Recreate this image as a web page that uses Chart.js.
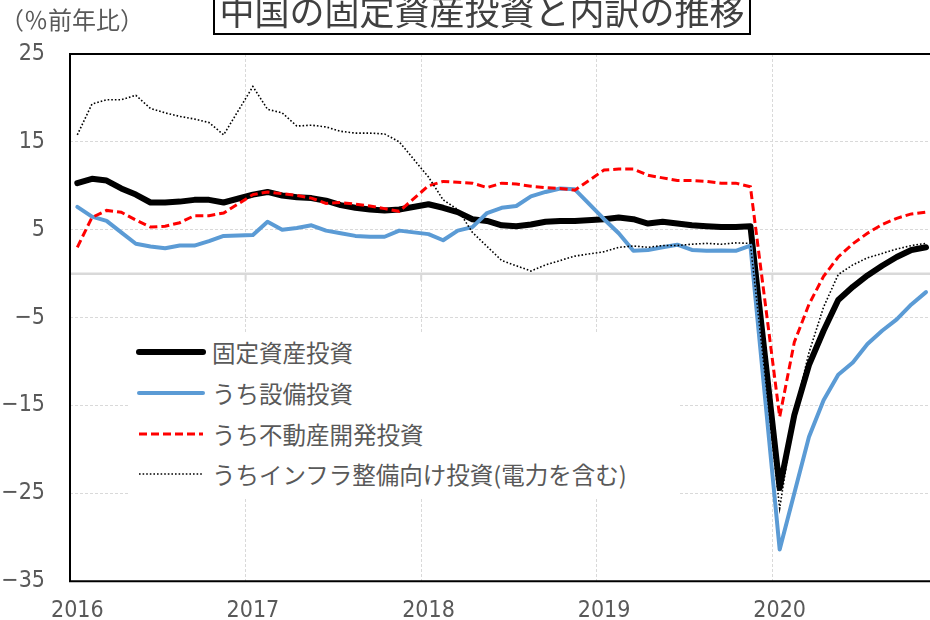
<!DOCTYPE html>
<html lang="ja">
<head>
<meta charset="utf-8">
<title>中国の固定資産投資と内訳の推移</title>
<script src="https://cdn.jsdelivr.net/npm/chart.js@4/dist/chart.umd.min.js"></script>
<style>
  html, body { margin: 0; padding: 0; background: #fff; }
  #wrap { position: relative; width: 930px; height: 620px; overflow: hidden; }
  #chart { position: absolute; left: 0; top: 0; }
  .jp { font-family: 'Noto Sans CJK JP', sans-serif; color: #595959; }
  #title {
    position: absolute; left: 213px; top: -14px; width: 538px; height: 49px;
    box-sizing: border-box; border: 2px solid #000; background: #fff;
    padding-top: 4px; font-size: 35px; line-height: 35px; text-align: center;
    color: #404040; white-space: nowrap;
  }
  #unit { position: absolute; left: 0; top: 7px; font-size: 24px; line-height: 24px; }
  #legend {
    position: absolute; left: 128px; top: 332px; width: 551px; height: 165px;
    background: #fff;
  }
  .row { display: flex; align-items: center; height: 40.7px; }
  .row svg { margin-left: 7px; }
  .row span { margin-left: 5px; font-size: 23.5px; line-height: 24px; white-space: nowrap; }
</style>
</head>
<body>
<div id="wrap">
  <!-- canvas a little wider than the window: the plot runs off the right edge like the original -->
  <canvas id="chart" width="942" height="620"></canvas>
  <div id="title" class="jp">中国の固定資産投資と内訳の推移</div>
  <div id="unit" class="jp">（％前年比）</div>
  <div id="legend" class="jp"></div>
</div>
<script>
const years = ['2016', '2017', '2018', '2019', '2020'];

// Feb 2016 ... Dec 2020, one slot per month; January slots have no data (Jan-Feb cumulative)
const months = [];
years.forEach((y, i) => {
  if (i > 0) months.push(y + '/1');
  for (let m = 2; m <= 12; m++) months.push(y + '/' + m);
});

const seriesNames = [
  '固定資産投資',
  'うち設備投資',
  'うち不動産開発投資',
  'うちインフラ整備向け投資(電力を含む)'
];

const fixedAsset = [
  10.3, 10.8, 10.6, 9.7, 9.0, 8.1, 8.1, 8.2, 8.4, 8.4, 8.1,
  null, 9.0, 9.3, 8.9, 8.7, 8.6, 8.3, 7.8, 7.5, 7.3, 7.2, 7.3,
  null, 7.9, 7.5, 7.0, 6.2, 6.0, 5.5, 5.4, 5.6, 5.9, 6.0, 6.0,
  null, 6.2, 6.4, 6.2, 5.7, 5.9, 5.7, 5.5, 5.4, 5.3, 5.3, 5.4,
  null, -24.4, -16.1, -10.4, -6.5, -3.0, -1.5, -0.2, 0.9, 1.9, 2.7, 3.0
];

const equipment = [
  7.6, 6.5, 6.0, 4.7, 3.4, 3.1, 2.9, 3.2, 3.2, 3.7, 4.3,
  null, 4.4, 5.9, 5.0, 5.2, 5.5, 4.9, 4.6, 4.3, 4.2, 4.2, 4.9,
  null, 4.5, 3.8, 4.9, 5.3, 6.9, 7.5, 7.7, 8.8, 9.3, 9.7, 9.6,
  null, 6.2, 4.6, 2.6, 2.7, 3.0, 3.3, 2.7, 2.6, 2.65, 2.6, 3.2,
  null, -31.4, -25.0, -18.6, -14.4, -11.5, -10.1, -8.0, -6.5, -5.2, -3.5, -2.1
];

const realEstate = [
  3.0, 6.4, 7.2, 7.0, 6.1, 5.3, 5.4, 5.8, 6.6, 6.6, 6.9,
  null, 9.0, 9.3, 9.1, 8.9, 8.6, 8.0, 8.1, 7.9, 7.7, 7.4, 7.1,
  null, 10.0, 10.5, 10.4, 10.3, 9.8, 10.3, 10.2, 9.95, 9.8, 9.7, 9.5,
  null, 11.8, 11.9, 11.9, 11.2, 10.9, 10.6, 10.6, 10.5, 10.3, 10.3, 9.9,
  null, -16.3, -7.8, -3.5, -0.3, 1.9, 3.4, 4.6, 5.6, 6.3, 6.8, 7.0
];

const infra = [
  15.8, 19.3, 19.8, 19.8, 20.3, 18.8, 18.3, 17.9, 17.6, 17.2, 15.8,
  null, 21.3, 18.7, 18.3, 16.8, 16.9, 16.7, 16.2, 16.0, 16.0, 15.9, 15.0,
  null, 11.0, 8.4, 7.3, 4.7, 3.1, 1.5, 0.9, 0.3, 1.0, 1.5, 2.0,
  null, 2.5, 3.0, 3.15, 3.0, 3.2, 3.2, 3.35, 3.45, 3.35, 3.5, 3.45,
  null, -26.7, -16.0, -9.0, -3.8, -0.1, 1.0, 1.8, 2.3, 2.8, 3.2, 3.45
];

const yMin = -35;
const yMax = 25;
const yStep = 10;

const tickColor = '#595959';
const gridColor = '#d9d9d9';
const tickFont = { family: "'Liberation Sans Narrow', 'DejaVu Sans Condensed', 'Liberation Sans', sans-serif", size: 23 };

// zero line, small ticks on it, and the black frame
const framePlugin = {
  id: 'frame',
  beforeDatasetsDraw(chart) {
    const { ctx, chartArea: a, scales: { x, y } } = chart;
    const y0 = y.getPixelForValue(0);
    ctx.save();
    ctx.strokeStyle = gridColor;
    ctx.lineWidth = 2.5;
    ctx.beginPath();
    ctx.moveTo(a.left, y0);
    ctx.lineTo(a.right, y0);
    ctx.stroke();
    ctx.lineWidth = 2;
    for (let i = 0; i < months.length; i += 12) {
      const px = x.getPixelForValue(i - 0.5);
      ctx.beginPath();
      ctx.moveTo(px, y0);
      ctx.lineTo(px, y0 + 7);
      ctx.stroke();
    }
    ctx.restore();
  },
  afterDraw(chart) {
    const { ctx, chartArea: a } = chart;
    ctx.save();
    ctx.strokeStyle = '#000';
    ctx.lineWidth = 2;
    ctx.beginPath();
    ctx.moveTo(a.right + 2, a.top);
    ctx.lineTo(a.left, a.top);
    ctx.lineTo(a.left, a.bottom);
    ctx.lineTo(a.right + 2, a.bottom);
    ctx.stroke();
    ctx.restore();
  }
};

const chart = new Chart(document.getElementById('chart'), {
  type: 'line',
  data: {
    labels: months,
    datasets: [
      {
        label: seriesNames[0], data: fixedAsset, borderColor: '#000', borderWidth: 6,
        borderCapStyle: 'round', borderJoinStyle: 'round', order: 4
      },
      {
        label: seriesNames[1], data: equipment, borderColor: '#5b9bd5', borderWidth: 4,
        borderCapStyle: 'round', borderJoinStyle: 'round', order: 3
      },
      {
        label: seriesNames[2], data: realEstate, borderColor: '#ff0000', borderWidth: 3,
        borderDash: [8, 4], order: 2
      },
      {
        label: seriesNames[3], data: infra, borderColor: '#000', borderWidth: 1.6,
        borderDash: [1.6, 2], order: 1
      }
    ]
  },
  options: {
    responsive: false,
    animation: false,
    spanGaps: true,
    elements: { point: { radius: 0 }, line: { tension: 0, fill: false } },
    layout: { padding: { top: 54, right: 0, bottom: 0, left: 0 } },
    plugins: { legend: { display: false }, tooltip: { enabled: false } },
    scales: {
      x: {
        offset: true,
        grid: {
          offset: true,
          drawTicks: false,
          lineWidth: 1,
          color: c => (c.index % 12 === 0 ? gridColor : 'rgba(0,0,0,0)')
        },
        border: { display: false, dash: [3, 2] },
        ticks: {
          autoSkip: false, maxRotation: 0, padding: 16,
          color: tickColor, font: tickFont,
          callback: (v, i) => (i % 12 === 0 ? years[i / 12] : '')
        },
        afterFit: s => { s.height = 37; }
      },
      y: {
        min: yMin, max: yMax,
        grid: { color: gridColor, drawTicks: false, lineWidth: 1 },
        border: { display: false, dash: [3, 2] },
        ticks: {
          stepSize: yStep, padding: 25, color: tickColor, font: tickFont,
          callback: v => (v < 0 ? '\u2212' + Math.abs(v) : String(v))
        },
        afterFit: s => { s.width = 70; }
      }
    }
  },
  plugins: [framePlugin]
});

// legend built from the datasets
document.getElementById('legend').innerHTML = chart.data.datasets.map(ds => {
  const dash = ds.borderDash ? ds.borderDash.join(' ') : 'none';
  const cap = ds.borderDash ? 'butt' : 'round';
  return `
    <div class="row">
      <svg width="72" height="12"><line x1="4" y1="6" x2="68" y2="6"
        stroke="${ds.borderColor}" stroke-width="${ds.borderWidth}"
        stroke-dasharray="${dash}" stroke-linecap="${cap}"/></svg>
      <span>${ds.label}</span>
    </div>`;
}).join('');
</script>
</body>
</html>
